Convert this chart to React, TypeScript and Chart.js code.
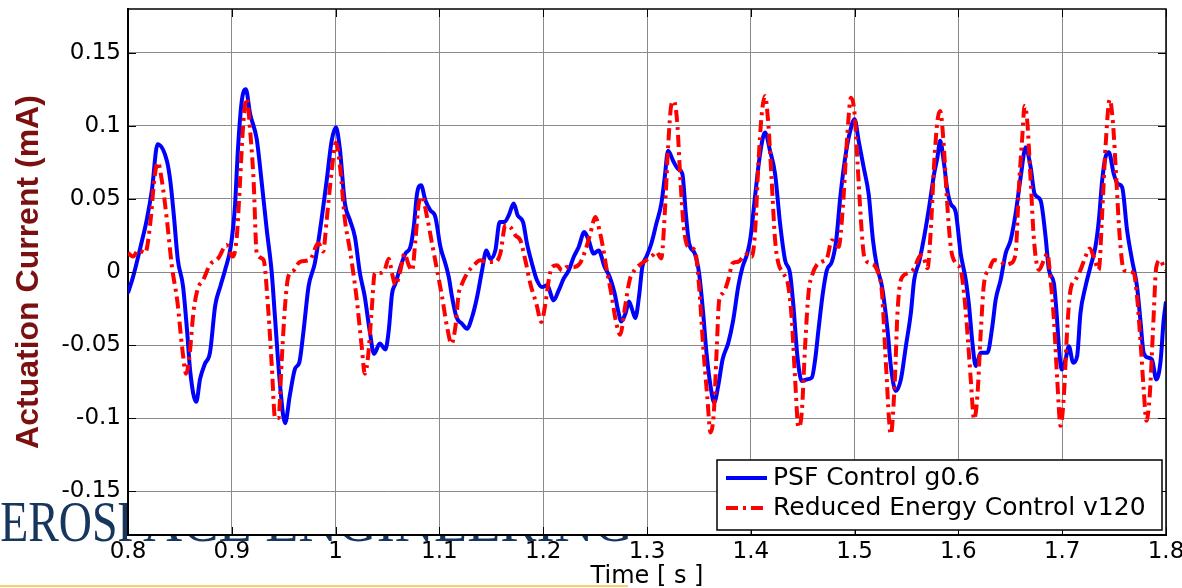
import { useEffect, useRef } from 'react';
import { Chart, registerables } from 'chart.js';

Chart.register(...registerables);

// ---------------- data ----------------
const psfTime = [
  0.8, 0.805, 0.812, 0.818, 0.823, 0.8285, 0.8375, 0.8407, 0.844, 0.848, 0.853, 0.857, 0.86, 0.8657, 0.8695,
  0.874, 0.879, 0.884, 0.889, 0.8936, 0.899, 0.903, 0.906, 0.9096, 0.9135, 0.9177, 0.924, 0.929, 0.9337, 0.9385,
  0.9417, 0.9465, 0.9513, 0.956, 0.961, 0.965, 0.969, 0.974, 0.98, 0.985, 0.9914, 0.9962, 1.0003, 1.004, 1.009,
  1.0138, 1.0186, 1.0234, 1.028, 1.033, 1.037, 1.0426, 1.048, 1.0512, 1.0544, 1.0576, 1.0624, 1.0672, 1.072,
  1.0753, 1.0785, 1.0823, 1.0865, 1.0913, 1.0961, 1.101, 1.1058, 1.109, 1.1122, 1.1164, 1.1218, 1.1266, 1.1315,
  1.1363, 1.1411, 1.1453, 1.1491, 1.1539, 1.1581, 1.1626, 1.1668, 1.1716, 1.1754, 1.1806, 1.1844, 1.1892, 1.194,
  1.1989, 1.2037, 1.2101, 1.2149, 1.2197, 1.2246, 1.2294, 1.2342, 1.2396, 1.2438, 1.2486, 1.2534, 1.2591, 1.264,
  1.2688, 1.272, 1.2752, 1.2794, 1.2826, 1.2858, 1.2887, 1.2923, 1.2955, 1.2994, 1.3042, 1.309, 1.3138, 1.3171,
  1.3203, 1.3251, 1.33, 1.3341, 1.3374, 1.3406, 1.346, 1.3502, 1.3541, 1.3573, 1.3612, 1.3647, 1.3686, 1.3728,
  1.3783, 1.3831, 1.3879, 1.3921, 1.3966, 1.3998, 1.404, 1.4089, 1.4137, 1.4185, 1.4234, 1.4282, 1.433, 1.4378,
  1.4411, 1.4449, 1.4491, 1.454, 1.4588, 1.462, 1.4652, 1.4694, 1.4733, 1.4781, 1.4823, 1.4862, 1.491, 1.4958,
  1.5, 1.5039, 1.5087, 1.5135, 1.5177, 1.5216, 1.5264, 1.5317, 1.5349, 1.5397, 1.5446, 1.5494, 1.5542, 1.5574,
  1.5622, 1.567, 1.5718, 1.5766, 1.5798, 1.5824, 1.5862, 1.5894, 1.5926, 1.5974, 1.6022, 1.6071, 1.6103, 1.6135,
  1.6167, 1.6215, 1.6279, 1.6327, 1.6359, 1.6407, 1.6455, 1.6503, 1.6551, 1.66, 1.6648, 1.6696, 1.6734, 1.6792,
  1.684, 1.6872, 1.692, 1.6946, 1.6968, 1.6994, 1.7032, 1.7064, 1.7106, 1.7144, 1.7176, 1.7224, 1.7272, 1.732,
  1.7353, 1.7385, 1.7417, 1.7449, 1.7497, 1.7535, 1.7577, 1.7625, 1.7673, 1.7721, 1.7753, 1.7785, 1.7833, 1.7865,
  1.7907, 1.7946, 1.7978, 1.8,
];
const psfCurrent = [
  -0.0143, -0.003, 0.017, 0.0355, 0.056, 0.0875, 0.076, 0.0626, 0.04, 0.0084, -0.0097, -0.041, -0.0685, -0.0888, -0.073,
  -0.063, -0.055, -0.023, -0.0097, 0.0016, 0.0174, 0.0446, 0.085, 0.117, 0.125, 0.108, 0.091, 0.06, 0.0287, -0.0007,
  -0.032, -0.0775, -0.1035, -0.084, -0.066, -0.062, -0.041, -0.0097, 0.006, 0.0287, 0.0626, 0.0897, 0.099, 0.085, 0.0468,
  0.0355, 0.024, -0.0007, -0.0165, -0.041, -0.056, -0.049, -0.053, -0.04, -0.0148, -0.008, 0.0034, 0.0126, 0.0171,
  0.0308, 0.0537, 0.0594, 0.049, 0.0422, 0.0377, 0.0171, 0.0057, -0.0034, -0.0171, -0.0308, -0.0354, -0.0388, -0.0308,
  -0.0171, 0.0011, 0.0148, 0.0091, 0.0148, 0.0342, 0.0342, 0.0388, 0.0468, 0.0388, 0.0342, 0.0194, 0.0057, -0.0057,
  -0.0103, -0.0091, -0.0194, -0.0126, -0.0046, 0.0011, 0.0103, 0.0171, 0.0274, 0.0217, 0.0126, 0.0148, 0.0036, -0.0032,
  -0.0145, -0.0259, -0.0338, -0.0281, -0.0202, -0.0259, -0.0315, -0.0168, 0.0036, 0.0104, 0.0195, 0.0331, 0.0467, 0.0649,
  0.083, 0.0762, 0.0705, 0.0671, 0.0399, 0.0195, 0.0127, -0.0009, -0.0281, -0.0553, -0.078, -0.0893, -0.078, -0.0599,
  -0.0485, -0.0327, -0.01, 0.0036, 0.0127, 0.024, 0.0512, 0.0807, 0.0955, 0.083, 0.0671, 0.0331, 0.0082, -0.0009,
  -0.0236, -0.0576, -0.0746, -0.0735, -0.0723, -0.0599, -0.0395, -0.0145, 0.0014, 0.007, 0.0218, 0.0512, 0.0785, 0.0966,
  0.1045, 0.0898, 0.0717, 0.0535, 0.0218, 0.0036, -0.01, -0.0395, -0.0644, -0.0814, -0.0735, -0.0508, -0.0281, -0.0054,
  0.007, 0.024, 0.0444, 0.0671, 0.0785, 0.0898, 0.0739, 0.0558, 0.0467, 0.041, 0.0127, -0.0054, -0.0236, -0.0485,
  -0.0644, -0.0553, -0.0553, -0.0372, -0.019, -0.0054, 0.0127, 0.0218, 0.0399, 0.0649, 0.0853, 0.0717, 0.0535, 0.049,
  0.024, 0.0014, -0.0077, -0.0281, -0.0508, -0.0667, -0.0599, -0.0508, -0.0621, -0.0576, -0.0281, -0.01, 0.0036, 0.0172,
  0.0354, 0.0626, 0.0785, 0.0819, 0.0671, 0.0603, 0.0581, 0.0286, 0.0082, -0.01, -0.0327, -0.0553, -0.0587, -0.0599,
  -0.0735, -0.0621, -0.0327, -0.0202,
];
const recTime = [
  0.8, 0.805, 0.81, 0.8166, 0.8214, 0.8256, 0.8288, 0.8326, 0.8375, 0.8423, 0.8477, 0.8519, 0.856, 0.8593, 0.863,
  0.867, 0.8727, 0.879, 0.887, 0.895, 0.901, 0.9048, 0.908, 0.911, 0.9144, 0.9177, 0.921, 0.924, 0.9305, 0.9353,
  0.9385, 0.9417, 0.945, 0.948, 0.9513, 0.9545, 0.959, 0.9657, 0.9753, 0.9833, 0.988, 0.9914, 0.9962, 1.0003, 1.004,
  1.009, 1.0138, 1.02, 1.025, 1.0282, 1.0314, 1.0346, 1.0378, 1.0426, 1.047, 1.0512, 1.0544, 1.0576, 1.0624, 1.0663,
  1.0705, 1.0737, 1.0769, 1.0801, 1.0833, 1.0881, 1.0929, 1.0978, 1.1026, 1.1074, 1.1116, 1.1154, 1.1186, 1.1218,
  1.1266, 1.1331, 1.1395, 1.1459, 1.1539, 1.1587, 1.1636, 1.1684, 1.1732, 1.178, 1.1828, 1.1876, 1.1934, 1.1982,
  1.2021, 1.2053, 1.2085, 1.2133, 1.2181, 1.2229, 1.2294, 1.2352, 1.2406, 1.2454, 1.2502, 1.2544, 1.2575, 1.2607,
  1.2655, 1.2704, 1.2742, 1.2784, 1.2833, 1.2881, 1.2929, 1.2994, 1.3058, 1.309, 1.3138, 1.3171, 1.3203, 1.3235,
  1.3258, 1.329, 1.3322, 1.3354, 1.3396, 1.346, 1.3502, 1.3541, 1.358, 1.3612, 1.3644, 1.367, 1.3696, 1.3734, 1.3783,
  1.3824, 1.3879, 1.3928, 1.3976, 1.4008, 1.404, 1.4073, 1.4105, 1.4137, 1.4169, 1.4201, 1.4234, 1.4266, 1.4314,
  1.4362, 1.4395, 1.4427, 1.4459, 1.4491, 1.4523, 1.4556, 1.4597, 1.4636, 1.4684, 1.4733, 1.4781, 1.4813, 1.4846,
  1.4887, 1.4926, 1.4965, 1.4997, 1.5029, 1.5061, 1.5093, 1.5151, 1.5216, 1.5264, 1.5301, 1.5349, 1.5388, 1.5413,
  1.5446, 1.551, 1.5574, 1.5622, 1.5654, 1.5702, 1.5734, 1.5766, 1.5798, 1.5824, 1.5856, 1.5888, 1.5926, 1.5974,
  1.6022, 1.6054, 1.6087, 1.6119, 1.6151, 1.6183, 1.6215, 1.6247, 1.6295, 1.6343, 1.6407, 1.6455, 1.6503, 1.6551,
  1.6583, 1.6615, 1.6638, 1.6663, 1.6696, 1.6728, 1.6776, 1.6824, 1.6856, 1.6888, 1.692, 1.6952, 1.6984, 1.7016,
  1.7048, 1.708, 1.7128, 1.7176, 1.7224, 1.7266, 1.7304, 1.7353, 1.7385, 1.7417, 1.7458, 1.749, 1.7522, 1.7554,
  1.7593, 1.7641, 1.7689, 1.7721, 1.7753, 1.7785, 1.7811, 1.7843, 1.7875, 1.7907, 1.7946, 1.7978, 1.8,
];
const recCurrent = [
  0.013, 0.0106, 0.015, 0.013, 0.033, 0.065, 0.075, 0.0626, 0.0355, 0.0038, -0.021, -0.05, -0.0696, -0.057, -0.0278,
  -0.012, -0.005, 0.005, 0.0095, 0.0185, 0.0106, 0.024, 0.0626, 0.101, 0.119, 0.0965, 0.0626, 0.013, 0.0084, -0.0278,
  -0.064, -0.1, -0.1, -0.0617, -0.023, -0.003, 0.0005, 0.007, 0.0084, 0.0197, 0.014, 0.0355, 0.069, 0.0885, 0.074,
  0.0355, 0.015, -0.0165, -0.05, -0.0696, -0.057, -0.0278, -0.0007, -0.0007, 0.001, 0.009, -0.001, -0.009, 0.001, 0.0126,
  0.0046, 0.001, 0.0217, 0.0468, 0.0514, 0.0377, 0.0194, 0.0011, -0.0171, -0.0377, -0.0491, -0.0377, -0.0148, -0.008,
  -0.0011, 0.0046, 0.008, 0.0068, 0.0068, 0.0126, 0.032, 0.0308, 0.0251, 0.0217, 0.008, -0.008, -0.0217, -0.0342,
  -0.0217, -0.0057, 0.0034, 0.0046, 0.0011, 0.0034, 0.0034, 0.0057, 0.0148, 0.0263, 0.0377, 0.028, 0.0172, 0.0036,
  -0.0145, -0.0349, -0.0429, -0.0259, -0.0054, 0.0014, 0.0048, 0.0082, 0.0116, 0.0138, 0.0093, 0.0399, 0.0853, 0.1147,
  0.117, 0.1034, 0.0626, 0.0308, 0.0172, 0.015, -0.01, -0.0508, -0.0848, -0.1098, -0.0961, -0.0553, -0.019, -0.0145, -0.0054,
  0.0059, 0.007, 0.0104, 0.0127, 0.0104, 0.0263, 0.0739, 0.1079, 0.1204, 0.1011, 0.0626, 0.0218, 0.0059, -0.0009,
  -0.01, -0.0327, -0.0735, -0.1063, -0.0961, -0.0508, -0.0145, -0.0009, 0.0048, 0.007, 0.0093, 0.0218, 0.0195, 0.0172,
  0.0444, 0.0898, 0.1193, 0.1102, 0.0739, 0.0354, 0.0104, 0.0059, 0.0014, -0.0145, -0.062, -0.111, -0.0735, -0.0281,
  -0.0054, -0.0009, 0.0025, 0.0104, 0.0116, 0.0025, 0.0286, 0.0739, 0.1034, 0.1102, 0.0898, 0.0512, 0.0172, 0.0059,
  0.0014, -0.0145, -0.0417, -0.0735, -0.1007, -0.0848, -0.0417, -0.0077, 0.0014, 0.0082, 0.007, 0.0048, 0.0059, 0.0127,
  0.058, 0.092, 0.1136, 0.1034, 0.0626, 0.0218, 0.0014, 0.0082, 0.0127, -0.0054, -0.0327, -0.0735, -0.1052, -0.0848,
  -0.0395, -0.0122, -0.0054, 0.0014, 0.0104, 0.0161, 0.0104, 0.0014, 0.0399, 0.0853, 0.1181, 0.1011, 0.0626, 0.024,
  0.0014, 0.0002, -0.0009, -0.0168, -0.0463, -0.0803, -0.1018, -0.0848, -0.0395, 0.0036, 0.0082, 0.0036, 0.0014,
];

const xTickValues = [0.8, 0.9, 1, 1.1, 1.2, 1.3, 1.4, 1.5, 1.6, 1.7, 1.8];
const yTickValues = [-0.15, -0.1, -0.05, 0, 0.05, 0.1, 0.15];
const seriesLabels = ['PSF Control g0.6', 'Reduced Energy Control v120'];
const xTitle = 'Time [ s ]';
const yTitle = 'Actuation Current (mA)';
const watermarkText = 'AEROSPACE ENGINEERING';

const fmt = (v: number) => String(Number(Number(v).toFixed(2)));

// ---------------- plugins ----------------
const backdropPlugin = {
  id: 'backdrop',
  beforeDraw(chart: any) {
    const { ctx, chartArea } = chart;
    ctx.save();
    ctx.fillStyle = '#17365d';
    ctx.font = '56px "Liberation Serif", "DejaVu Serif", serif';
    ctx.textBaseline = 'alphabetic';
    const p1 = watermarkText.slice(0, 6);
    const p2 = watermarkText.slice(6);
    const w1 = ctx.measureText(p1).width;
    const s1 = 176 / w1;
    ctx.save();
    ctx.translate(-33, 541);
    ctx.scale(s1, 1);
    ctx.fillText(p1, 0, 0);
    ctx.restore();
    const w2 = ctx.measureText(p2).width;
    const s2 = 490 / w2;
    ctx.save();
    ctx.translate(143, 541);
    ctx.scale(s2, 1);
    ctx.fillText(p2, 0, 0);
    ctx.restore();
    ctx.fillStyle = '#f8cf6e';
    ctx.fillRect(0, 585, 628, 2);
    ctx.fillStyle = '#ffffff';
    ctx.fillRect(chartArea.left, chartArea.top, chartArea.right - chartArea.left, chartArea.bottom - chartArea.top);
    ctx.restore();
  },
};

const frameLegendPlugin = {
  id: 'frameLegend',
  afterDraw(chart: any) {
    const { ctx, chartArea, scales } = chart;
    const { left, right, top, bottom } = chartArea;
    ctx.save();
    // box frame (top / right)
    ctx.strokeStyle = '#000';
    ctx.lineWidth = 1.5;
    ctx.beginPath();
    ctx.moveTo(left, top);
    ctx.lineTo(right, top);
    ctx.lineTo(right, bottom);
    ctx.stroke();
    // inward tick marks
    ctx.lineWidth = 1;
    const tl = 8;
    ctx.beginPath();
    xTickValues.forEach((v) => {
      const px = Math.round(scales.x.getPixelForValue(v)) + 0.5;
      ctx.moveTo(px, bottom);
      ctx.lineTo(px, bottom - tl);
      ctx.moveTo(px, top);
      ctx.lineTo(px, top + tl);
    });
    yTickValues.forEach((v) => {
      const py = Math.round(scales.y.getPixelForValue(v)) + 0.5;
      ctx.moveTo(left, py);
      ctx.lineTo(left + tl, py);
      ctx.moveTo(right, py);
      ctx.lineTo(right - tl, py);
    });
    ctx.stroke();

    // legend box
    const bx = right - 449;
    const by = bottom - 75;
    const bw = 445;
    const bh = 70;
    ctx.fillStyle = '#fff';
    ctx.fillRect(bx, by, bw, bh);
    ctx.strokeStyle = '#000';
    ctx.lineWidth = 1.5;
    ctx.strokeRect(bx, by, bw, bh);
    ctx.font = '25px "DejaVu Sans"';
    ctx.textBaseline = 'alphabetic';
    ctx.textAlign = 'left';
    chart.data.datasets.forEach((ds: any, i: number) => {
      const ly = by + 18 + i * 30;
      ctx.strokeStyle = ds.borderColor;
      ctx.lineWidth = 4;
      ctx.setLineDash(ds.borderDash || []);
      ctx.beginPath();
      ctx.moveTo(bx + 9, ly);
      ctx.lineTo(bx + 50, ly);
      ctx.stroke();
      ctx.setLineDash([]);
      ctx.fillStyle = '#000';
      ctx.fillText(ds.label, bx + 56, ly + 7);
    });
    ctx.restore();
  },
};

export default function App() {
  const canvasRef = useRef<HTMLCanvasElement | null>(null);

  useEffect(() => {
    document.body.style.margin = '0';
    const canvas = canvasRef.current;
    if (!canvas) return;
    const tickFont = { family: '"DejaVu Sans"', size: 23 };
    const chart = new Chart(canvas, {
      type: 'line',
      data: {
        datasets: [
          {
            label: seriesLabels[0],
            data: psfTime.map((t, i) => ({ x: t, y: psfCurrent[i] })),
            borderColor: '#0000ff',
            borderWidth: 4,
            pointRadius: 0,
            cubicInterpolationMode: 'monotone',
            fill: false,
            order: 1,
          },
          {
            label: seriesLabels[1],
            data: recTime.map((t, i) => ({ x: t, y: recCurrent[i] })),
            borderColor: '#ff0000',
            borderWidth: 4,
            borderDash: [12, 5, 3, 5],
            pointRadius: 0,
            cubicInterpolationMode: 'monotone',
            fill: false,
            order: 0,
          },
        ],
      },
      options: {
        responsive: false,
        animation: false,
        devicePixelRatio: 1,
        layout: { padding: { top: 9, right: 16, left: 0, bottom: 0 } },
        plugins: { legend: { display: false }, tooltip: { enabled: false } },
        scales: {
          x: {
            type: 'linear',
            min: 0.8,
            max: 1.8,
            afterBuildTicks: (axis: any) => {
              axis.ticks = xTickValues.map((v) => ({ value: v }));
            },
            afterFit: (s: any) => {
              s.height = 53;
              s.paddingLeft = 0;
              s.paddingRight = 0;
            },
            grid: { color: '#8a8a8a', lineWidth: 1, drawTicks: false },
            border: { color: '#000', width: 2 },
            ticks: {
              color: '#000',
              font: tickFont,
              padding: 3,
              maxRotation: 0,
              autoSkip: false,
              callback: (v: any) => fmt(v),
            },
            title: {
              display: true,
              text: xTitle,
              color: '#000',
              font: { family: '"DejaVu Sans"', size: 24, lineHeight: 0.9 },
              padding: 0,
            },
          },
          y: {
            type: 'linear',
            min: -0.18,
            max: 0.18,
            afterBuildTicks: (axis: any) => {
              axis.ticks = yTickValues.map((v) => ({ value: v }));
            },
            afterFit: (s: any) => {
              s.width = 128;
              s.paddingTop = 0;
              s.paddingBottom = 0;
            },
            grid: { color: '#8a8a8a', lineWidth: 1, drawTicks: false },
            border: { color: '#000', width: 2 },
            ticks: {
              color: '#000',
              font: tickFont,
              padding: 7,
              autoSkip: false,
              callback: (v: any) => fmt(v),
            },
            title: {
              display: true,
              text: yTitle,
              color: '#7a1010',
              font: { family: '"Liberation Sans", Arial, sans-serif', size: 32, weight: 'bold', lineHeight: 1.2 },
              padding: { top: 10, bottom: 0 },
            },
          },
        },
      },
      plugins: [backdropPlugin, frameLegendPlugin],
    } as any);
    return () => chart.destroy();
  }, []);

  return (
    <div style={{ width: 1182, height: 588, position: 'relative', background: '#fff' }}>
      <canvas ref={canvasRef} width={1182} height={588} style={{ display: 'block' }} />
    </div>
  );
}
